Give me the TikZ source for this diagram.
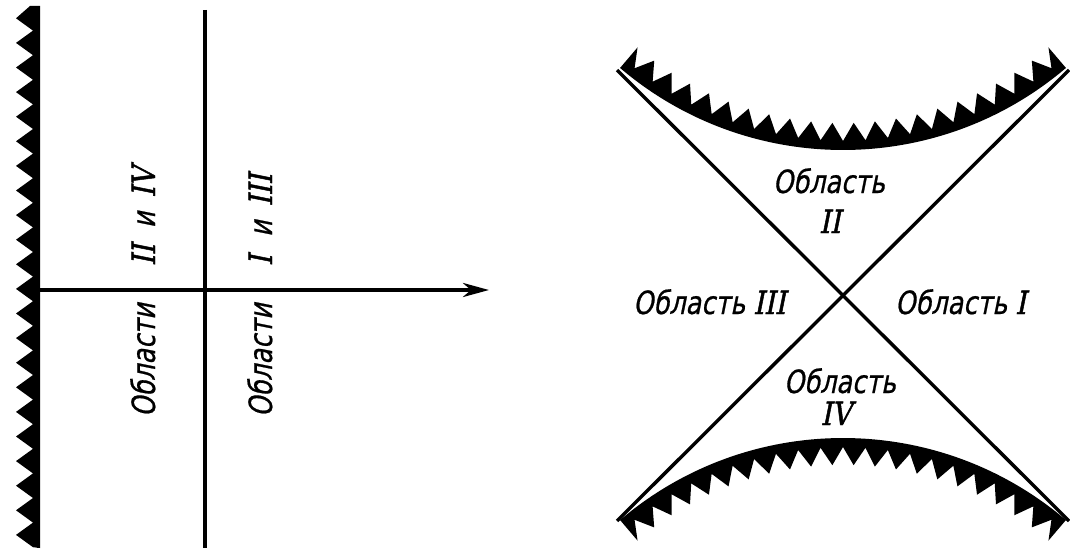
\documentclass[tikz,border=0pt]{standalone}
\usepackage{fontspec}
\newfontfamily\gost[FakeStretch=0.8,FakeSlant=0.2,FakeBold=0.6]{DejaVu Sans}
\newfontfamily\rom[FakeStretch=0.85,FakeSlant=0.2,FakeBold=1.5]{DejaVu Serif}
\usetikzlibrary{arrows.meta}
\begin{document}
\begin{tikzpicture}[x=1pt,y=-1pt,
  axis/.style={line width=4pt},
  cone/.style={line width=3.4pt},
  lbl/.style={font=\gost\fontsize{32}{36}\selectfont, inner sep=0pt},
  band/.style={fill=black}]
\useasboundingbox (0,0) rectangle (1070,551);

% ---------- left diagram ----------
\coordinate (wallTop) at (38,6);
\coordinate (wallBot) at (38,548);
\coordinate (axL) at (38,290);
\coordinate (axR) at (489,290);
\coordinate (vTop) at (205,10);
\coordinate (vBot) at (205,548);

% serrated wall
\fill (40,6) -- (30,6)
  \foreach \i in {0,...,21}{
    -- (16,{6+(\i+0.5)*24.6}) -- (33,{6+(\i+1)*24.6})
  } -- (40,548) -- cycle;
\draw[line width=2.5pt] (wallTop) -- (wallBot);

\draw[axis] (vTop) -- (vBot);
\draw[axis,-{Stealth[length=26pt,width=14pt,inset=8pt]}] (axL) -- (axR);

\node[lbl,rotate=90,anchor=base west] (t1) at (155,417) {Области};
\node[lbl,rotate=90,anchor=base west] (t2) at (155,266) {{\rom II} \hspace{8pt}и \hspace{6pt}{\rom IV}};
\node[lbl,rotate=90,anchor=base west] (t3) at (272,417) {Области};
\node[lbl,rotate=90,anchor=base west] (t4) at (272,266) {{\rom I} \hspace{10pt}и \hspace{6pt}{\rom III}};

% ---------- right diagram ----------
\coordinate (C) at (843,295);
\coordinate (UL) at (617,70);
\coordinate (UR) at (1069,70);
\coordinate (LL) at (617,521);
\coordinate (LR) at (1069,521);

\draw[cone] (UL) -- (LR);
\draw[cone] (UR) -- (LL);

% upper serrated arc (centre (843,-194), radius 344)
\fill[band] ({843+344*cos(49.6)},{-194+344*sin(49.6)}) arc[start angle=49.6,end angle=130.4,radius=344]
  \foreach \i in {0,...,20}{
    -- ({843+317*cos(130.4-\i*3.848)},{-194+317*sin(130.4-\i*3.848)})
    -- ({843+335*cos(130.4-(\i+0.5)*3.848)},{-194+335*sin(130.4-(\i+0.5)*3.848)})
  } -- ({843+317*cos(49.6)},{-194+317*sin(49.6)}) -- cycle;

% lower serrated arc (centre (843,782), radius 344)
\fill[band] ({843+344*cos(229.6)},{782+344*sin(229.6)}) arc[start angle=229.6,end angle=310.4,radius=344]
  \foreach \i in {0,...,20}{
    -- ({843+317*cos(310.4-\i*3.848)},{782+317*sin(310.4-\i*3.848)})
    -- ({843+335*cos(310.4-(\i+0.5)*3.848)},{782+335*sin(310.4-(\i+0.5)*3.848)})
  } -- ({843+317*cos(229.6)},{782+317*sin(229.6)}) -- cycle;

\node[lbl,anchor=base] (r2a) at (829,193) {Область};
\node[lbl,anchor=base] (r2b) at (830,233) {\rom II};
\node[lbl,anchor=base west] (r3) at (633,314) {Область {\rom III}};
\node[lbl,anchor=base west] (r1) at (895,314) {Область {\rom I}};
\node[lbl,anchor=base] (r4a) at (840,393) {Область};
\node[lbl,anchor=base] (r4b) at (836,425) {\rom IV};
\end{tikzpicture}
\end{document}
